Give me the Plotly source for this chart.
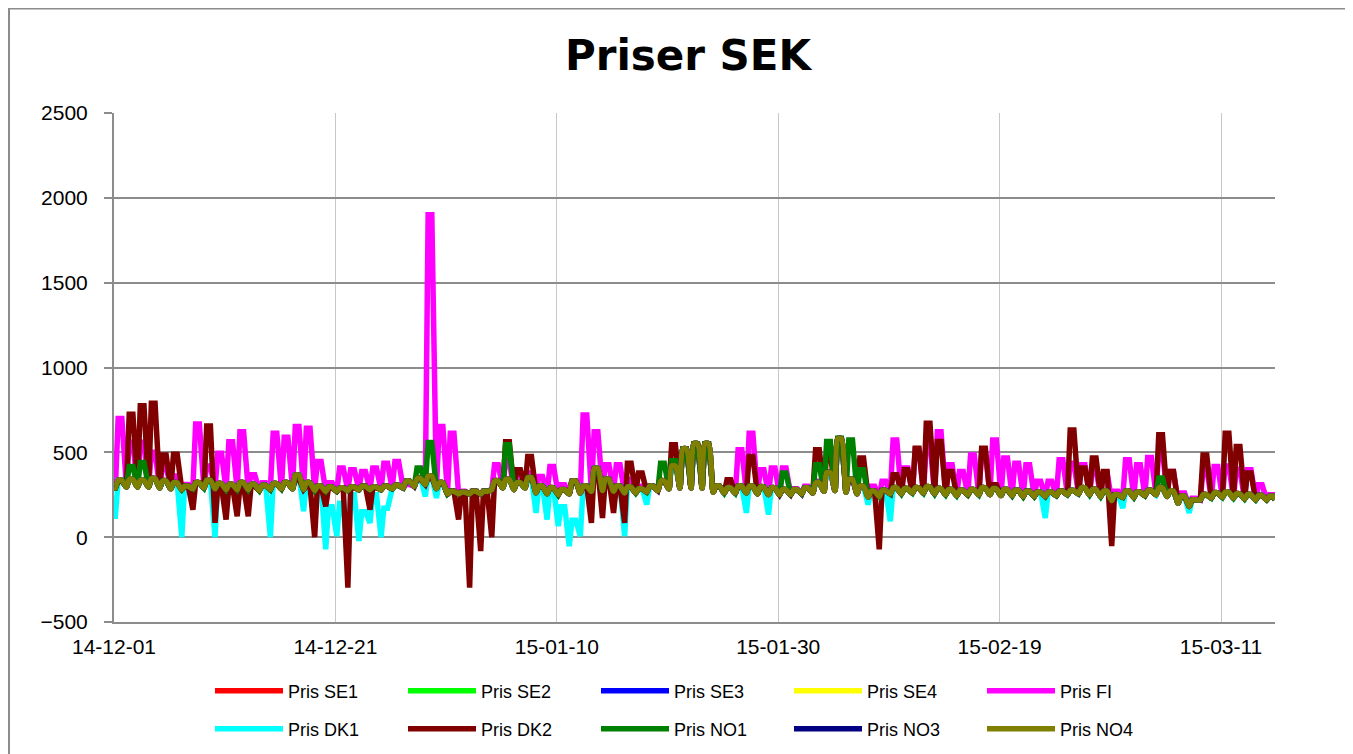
import pandas as pd
import plotly.graph_objects as go

# ---------------- data (daily night-low / day-high estimates, SEK/MWh) ----------------
start_date = "2014-12-01"
n_days = 105

system_hi = [335, 340, 335, 345, 330, 320, 300, 320, 335, 315,
             310, 320, 310, 305, 315, 320, 365, 320, 300, 295,
             290, 295, 300, 295, 300, 305, 330, 345, 360, 320,
             270, 265, 270, 270, 330, 340, 320, 350, 300, 290,
             280, 330, 300, 405, 340, 300, 295, 285, 300, 330,
             420, 520, 550, 550, 300, 290, 300, 300, 295, 290,
             280, 280, 290, 320, 380, 580, 340, 300, 270, 275,
             290, 285, 290, 295, 285, 280, 275, 280, 290, 285,
             280, 275, 270, 265, 265, 270, 275, 290, 280, 270,
             250, 270, 265, 275, 290, 270, 240, 220, 250, 260,
             265, 255, 250, 245, 240]

system_lo = [290, 295, 295, 295, 290, 285, 280, 285, 290, 285,
             280, 280, 280, 275, 280, 285, 285, 280, 275, 270,
             270, 275, 280, 280, 280, 285, 290, 300, 310, 285,
             255, 255, 255, 255, 280, 290, 280, 290, 260, 255,
             250, 255, 260, 270, 275, 270, 260, 260, 265, 275,
             285, 290, 290, 290, 265, 260, 260, 260, 255, 250,
             250, 250, 255, 260, 270, 275, 265, 255, 235, 240,
             255, 255, 260, 260, 255, 250, 245, 250, 250, 250,
             245, 245, 240, 240, 240, 245, 250, 255, 250, 240,
             215, 235, 235, 245, 250, 240, 200, 180, 220, 230,
             235, 230, 225, 220, 220]

fi_hi = [700, 560, 560, 500, 420, 360, 310, 667, 420, 495,
         563, 622, 368, 320, 612, 589, 652, 642, 446, 320,
         407, 397, 387, 407, 436, 446, 310, 350, 1900, 652,
         612, 270, 270, 270, 427, 450, 378, 378, 358, 417,
         309, 330, 720, 622, 427, 427, 340, 300, 300, 330,
         430, 520, 550, 550, 300, 300, 515, 612, 397, 407,
         407, 285, 300, 330, 380, 580, 340, 300, 300, 330,
         573, 407, 520, 560, 622, 427, 387, 485, 500, 573,
         466, 436, 427, 329, 329, 456, 436, 427, 400, 380,
         270, 456, 427, 470, 515, 387, 260, 230, 400, 417,
         420, 400, 397, 309, 250]

dk1_hi = [335, 340, 335, 345, 330, 320, 300, 320, 335, 315,
          310, 320, 310, 305, 315, 320, 365, 320, 300, 180,
          200, 250, 150, 250, 170, 305, 330, 345, 360, 320,
          270, 265, 270, 270, 330, 340, 320, 350, 300, 290,
          180, 100, 300, 405, 340, 300, 295, 285, 300, 330,
          420, 520, 550, 550, 300, 290, 300, 300, 295, 290,
          280, 280, 290, 320, 380, 580, 340, 300, 270, 275,
          290, 285, 290, 295, 285, 280, 275, 280, 290, 285,
          280, 275, 270, 265, 265, 270, 275, 290, 280, 270,
          250, 270, 265, 275, 290, 270, 240, 220, 250, 260,
          265, 255, 250, 245, 240]

dk1_lo = [123, 295, 295, 295, 290, 285, 0, 285, 290, 0,
          280, 280, 280, 275, 0, 285, 285, 153, 275, -72,
          6, -150, -23, 84, 0, 285, 290, 300, 240, 231,
          255, 255, 255, 255, 280, 290, 280, 290, 143, 104,
          65, -53, 6, 270, 275, 270, 6, 260, 192, 275,
          285, 290, 290, 290, 265, 260, 260, 143, 255, 133,
          250, 250, 255, 260, 270, 275, 265, 255, 192, 240,
          94, 255, 260, 260, 255, 250, 245, 250, 250, 250,
          245, 245, 240, 240, 113, 245, 250, 255, 250, 240,
          215, 172, 235, 245, 250, 240, 200, 143, 220, 230,
          235, 230, 225, 220, 220]

dk2_hi = [330, 724, 775, 789, 485, 489, 300, 320, 655, 300,
          300, 300, 300, 305, 315, 320, 340, 300, 300, 290,
          290, 290, 300, 290, 300, 305, 330, 340, 350, 320,
          270, 265, 270, 270, 330, 563, 397, 475, 300, 290,
          280, 330, 300, 400, 340, 300, 436, 378, 300, 330,
          544, 520, 550, 550, 300, 339, 300, 475, 295, 290,
          280, 280, 290, 515, 495, 580, 340, 466, 270, 275,
          368, 397, 524, 671, 564, 387, 275, 280, 524, 309,
          280, 275, 270, 265, 265, 270, 632, 407, 466, 387,
          250, 270, 265, 275, 603, 387, 240, 220, 485, 260,
          612, 534, 378, 245, 240]

dk2_lo = [290, 295, 295, 295, 290, 285, 280, 162, 290, 84,
          104, 123, 123, 275, 280, 285, 285, 280, 0, 182,
          270, -297, 280, 162, 280, 285, 290, 300, 310, 285,
          255, 104, -297, -82, 0, 290, 280, 290, 260, 255,
          250, 255, 260, 84, 113, 143, 84, 260, 265, 275,
          285, 290, 290, 290, 265, 260, 260, 260, 255, 250,
          250, 250, 255, 260, 270, 275, 265, 255, 235, -72,
          255, 255, 260, 260, 255, 250, 245, 250, 250, 250,
          245, 245, 240, 240, 240, 245, 250, 255, 250, 240,
          -53, 235, 235, 245, 250, 240, 200, 180, 220, 230,
          235, 230, 225, 220, 220]

no1_hi = [335, 417, 440, 345, 330, 320, 300, 320, 335, 315,
          310, 320, 310, 305, 315, 320, 365, 320, 300, 295,
          290, 295, 300, 295, 300, 305, 330, 407, 558, 320,
          270, 265, 270, 270, 330, 544, 320, 350, 300, 290,
          280, 330, 300, 405, 340, 300, 295, 285, 300, 436,
          450, 520, 550, 550, 300, 290, 300, 300, 295, 290,
          378, 280, 290, 427, 564, 583, 573, 397, 270, 275,
          290, 285, 290, 295, 285, 280, 275, 280, 290, 285,
          280, 275, 270, 265, 265, 270, 275, 290, 280, 270,
          250, 270, 265, 275, 348, 270, 240, 220, 250, 260,
          265, 255, 250, 245, 240]

series_names = ["Pris SE1", "Pris SE2", "Pris SE3", "Pris SE4", "Pris FI",
                "Pris DK1", "Pris DK2", "Pris NO1", "Pris NO3", "Pris NO4"]
series_lo = [system_lo, system_lo, system_lo, system_lo, system_lo,
             dk1_lo, dk2_lo, system_lo, system_lo, system_lo]
series_hi = [system_hi, system_hi, system_hi, system_hi, fi_hi,
             dk1_hi, dk2_hi, no1_hi, system_hi, system_hi]
series_colors = ["#FF0000", "#00FF00", "#0000FF", "#FFFF00", "#FF00FF",
                 "#00FFFF", "#800000", "#008000", "#000080", "#808000"]
series_smooth = [True, True, True, True, False, False, False, False, True, True]

y_ticks = [-500, 0, 500, 1000, 1500, 2000, 2500]

# ---------------- build hourly-like profile from daily values ----------------
days = pd.date_range(start_date, periods=n_days, freq="D")
H = pd.Timedelta(hours=1)


def profile(lo, hi):
    xs = [days[0]]
    ys = [lo[0]]
    for d, l, h in zip(days, lo, hi):
        xs += [d + 3 * H, d + 9 * H, d + 17 * H]
        ys += [l, h, h]
    xs.append(days[-1] + 21 * H)
    ys.append(lo[-1])
    return xs, ys


# ---------------- figure ----------------
# the page body has an 8px margin, so figure coords = screen coords - 8
OFF = 8
W, Hh = 1345, 746
ml, mr, mt, mb = 114 - OFF, 78, 113 - OFF, 132
pw, ph = W - ml - mr, Hh - mt - mb


def px_x(px):  # screen px -> paper
    return (px - OFF - ml) / pw


def px_y(py):
    return (Hh - mb - (py - OFF)) / ph


fig = go.Figure()
for i, (name, lo, hi, col, sm) in enumerate(zip(series_names, series_lo, series_hi,
                                                 series_colors, series_smooth)):
    xs, ys = profile(lo, hi)
    line = dict(color=col, width=5.5)
    if sm:
        line.update(shape="spline", smoothing=0.8)
    fig.add_trace(go.Scatter(
        x=xs, y=ys, mode="lines", name=name, line=line,
        legend="legend" if i < 5 else "legend2",
    ))

font_main = "Liberation Sans, Arial, sans-serif"
legend_common = dict(
    orientation="h", xanchor="left", yanchor="middle",
    entrywidth=110, entrywidthmode="pixels", itemwidth=68,
    font=dict(family=font_main, size=18, color="#000000"),
    bgcolor="rgba(0,0,0,0)", borderwidth=0, traceorder="normal",
)

fig.update_layout(
    width=W, height=Hh,
    margin=dict(l=ml, r=mr, t=mt, b=mb, pad=0, autoexpand=False),
    paper_bgcolor="#FFFFFF", plot_bgcolor="#FFFFFF",
    title=dict(text="<b>Priser SEK</b>", x=(688 - OFF) / W, xref="container", xanchor="center",
               y=1 - (55 - OFF) / Hh, yref="container", yanchor="middle",
               font=dict(family="DejaVu Sans, sans-serif", size=42, color="#000000")),
    showlegend=True,
    legend=dict(x=px_x(210), y=px_y(691), **legend_common),
    legend2=dict(x=px_x(210), y=px_y(729), **legend_common),
    xaxis=dict(
        type="date",
        range=[days[0], days[-1] + 21 * H],
        tick0=start_date, dtick=20 * 86400000, tickformat="%y-%m-%d",
        showgrid=True, gridcolor="#C8C8C8", gridwidth=1,
        showline=True, linecolor="#8C8C8C", linewidth=2,
        ticks="", zeroline=False, ticklabelstandoff=5,
        tickfont=dict(family=font_main, size=21, color="#000000"),
    ),
    yaxis=dict(
        range=[-500, 2500], tickvals=y_ticks,
        showgrid=True, gridcolor="#8C8C8C", gridwidth=1.5,
        showline=True, linecolor="#8C8C8C", linewidth=2,
        ticks="outside", ticklen=8, tickcolor="#8C8C8C", tickwidth=2,
        zeroline=False, ticklabelstandoff=12,
        tickfont=dict(family=font_main, size=21, color="#000000"),
    ),
    shapes=[dict(type="rect", xref="paper", yref="paper",
                 x0=px_x(9), x1=px_x(1400), y0=px_y(800), y1=px_y(8.5),
                 line=dict(color="#8C8C8C", width=2), fillcolor="rgba(0,0,0,0)",
                 layer="below")],
)

fig.write_html("out.html")
